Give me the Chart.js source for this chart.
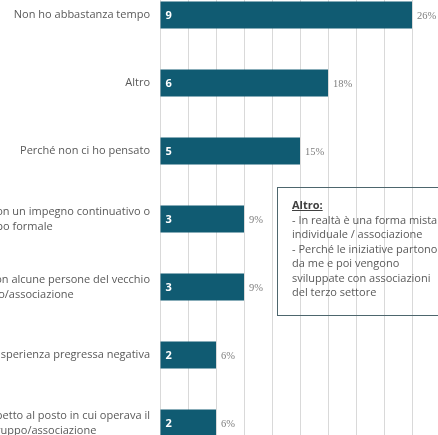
<!DOCTYPE html>
<html><head><meta charset="utf-8">
<script src="https://cdn.jsdelivr.net/npm/chart.js@4"></script>
<style>
html,body{margin:0;padding:0;background:#fff;overflow:hidden;width:438px;height:435px;position:relative;}
#wrap{position:absolute;left:-200px;top:-19px;width:640px;height:476px;}
#note{position:absolute;left:277px;top:187px;width:230px;height:129px;border:1px solid #4d666d;box-sizing:border-box;padding:10px 0 0 14px;font:11px 'Open Sans';line-height:14.5px;color:#595959;white-space:nowrap;}
#note .h{text-decoration:underline;font-weight:bold;color:#404040;}
</style></head><body>
<div id="wrap"><canvas id="c" width="640" height="476"></canvas></div>
<div id="note"><span class="h">Altro:</span><br>- In realtà è una forma mista<br>individuale / associazione<br>- Perché le iniziative partono<br>da me e poi vengono<br>sviluppate con associazioni<br>del terzo settore</div>
<script>
const categories = [
  'Non ho abbastanza tempo',
  'Altro',
  'Perché non ci ho pensato',
  ['Non voglio vincolarmi con un impegno continuativo o', 'troppo formale'],
  ['Ho avuto problemi con alcune persone del vecchio', 'gruppo/associazione'],
  'Esperienza pregressa negativa',
  ['Distanza rispetto al posto in cui operava il', 'gruppo/associazione']
];
const counts = [9, 6, 5, 3, 3, 2, 2];
const percentLabels = ['26%', '18%', '15%', '9%', '9%', '6%', '6%'];
const xMax = 10;

const labelPlugin = {
  id: 'labels',
  afterDatasetsDraw(chart) {
    const ctx = chart.ctx, yScale = chart.scales.y, meta = chart.getDatasetMeta(0);
    ctx.save();
    ctx.font = "11px 'Open Sans'";
    ctx.fillStyle = '#595959';
    ctx.textAlign = 'center';
    ctx.textBaseline = 'middle';
    const right = chart.chartArea.left - 10;
    categories.forEach((lab, i) => {
      const lines = Array.isArray(lab) ? lab : [lab];
      const w = Math.max(...lines.map(l => ctx.measureText(l).width));
      const cx = right - w / 2;
      const cy = yScale.getPixelForTick(i);
      const lh = 15;
      lines.forEach((l, k) => ctx.fillText(l, cx, cy + (k - (lines.length - 1) / 2) * lh));
    });
    meta.data.forEach((bar, i) => {
      ctx.textAlign = 'left';
      ctx.font = "bold 11px 'Open Sans'";
      ctx.fillStyle = '#ffffff';
      ctx.fillText(String(counts[i]), bar.base + 5, bar.y + 1);
      ctx.font = "10.5px 'Liberation Serif'";
      ctx.fillStyle = '#7f7f7f';
      ctx.fillText(percentLabels[i], bar.x + 5, bar.y + 1);
    });
    ctx.restore();
  }
};

new Chart(document.getElementById('c'), {
  type: 'bar',
  data: {
    labels: categories,
    datasets: [{
      data: counts,
      backgroundColor: '#105b72',
      borderWidth: 0,
      barPercentage: 0.4,
      categoryPercentage: 1
    }]
  },
  options: {
    indexAxis: 'y',
    responsive: false,
    animation: false,
    events: [],
    layout: { padding: 0 },
    plugins: { legend: { display: false }, tooltip: { enabled: false } },
    scales: {
      x: {
        min: 0, max: xMax,
        ticks: { display: false, stepSize: 1 },
        grid: { color: '#d9d9d9', lineWidth: 1, drawTicks: false },
        border: { display: false }
      },
      y: {
        ticks: { display: false },
        grid: { display: false },
        border: { display: false },
        afterFit(s) { s.width = 360; }
      }
    }
  },
  plugins: [labelPlugin]
});
</script>
</body></html>
